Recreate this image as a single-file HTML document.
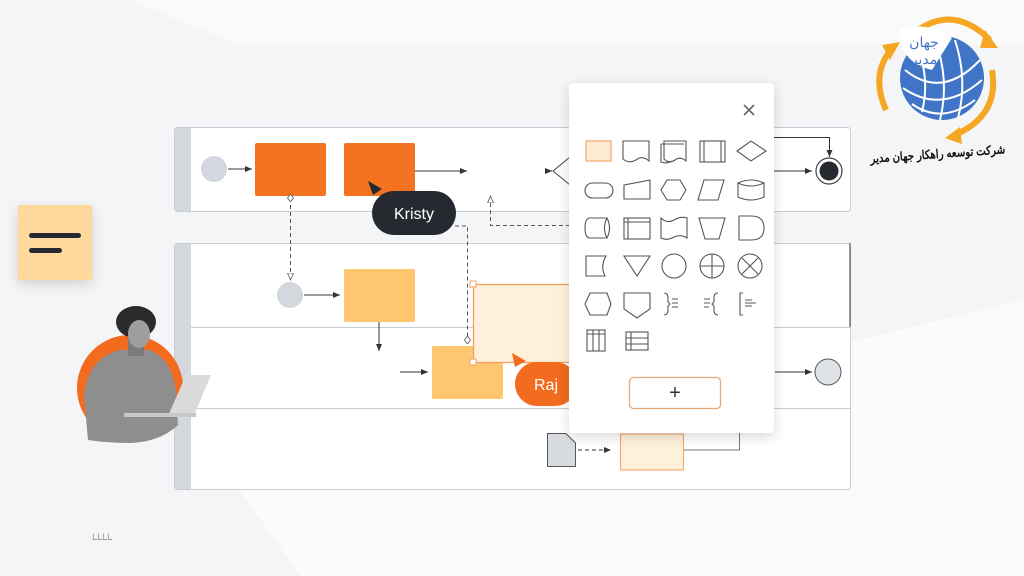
<!DOCTYPE html>
<html><head><meta charset="utf-8"><style>
html,body{margin:0;padding:0;width:1024px;height:576px;overflow:hidden;background:#f6f7f9}
svg{display:block}
text{font-family:"Liberation Sans","Noto Sans CJK SC",sans-serif}
</style></head><body>
<svg width="1024" height="576" viewBox="0 0 1024 576" xmlns="http://www.w3.org/2000/svg">
<defs>
<marker id="a" markerWidth="8" markerHeight="8" refX="7" refY="4" orient="auto"><path d="M0,1 L7,4 L0,7 z" fill="#333"/></marker>
<marker id="h" markerWidth="8" markerHeight="8" refX="7" refY="4" orient="auto"><path d="M0,1 L7,4 L0,7 z" fill="#fff" stroke="#555" stroke-width="0.8"/></marker>
<marker id="d" markerWidth="8" markerHeight="8" refX="4" refY="4" orient="auto"><path d="M0,4 L4,1 L8,4 L4,7 z" fill="#fff" stroke="#555" stroke-width="0.8"/></marker>
<filter id="sh" x="-20%" y="-20%" width="140%" height="140%"><feDropShadow dx="0" dy="4" stdDeviation="6" flood-color="#000" flood-opacity="0.15"/></filter>
</defs>
<rect width="1024" height="576" fill="#f4f5f7"/>
<polygon points="0,0 1024,0 1024,45 240,45 130,0" fill="#fafafb"/>
<polygon points="300,576 240,490 1024,300 1024,576" fill="#fbfbfc"/>

<!-- top pool -->
<rect x="174.5" y="127.5" width="676" height="84" rx="3" fill="#fff" stroke="#c9cdd3"/>
<rect x="175" y="128" width="16" height="83" fill="#d4d8de"/>
<!-- bottom pool -->
<rect x="174.5" y="243.5" width="676" height="246" rx="3" fill="#fff" stroke="#c9cdd3"/>
<rect x="175" y="244" width="16" height="245" fill="#d4d8de"/>
<line x1="191" y1="327.5" x2="850" y2="327.5" stroke="#c9cdd3"/>
<line x1="191" y1="408.5" x2="850" y2="408.5" stroke="#c9cdd3"/>
<line x1="850" y1="243" x2="850" y2="327" stroke="#555" stroke-width="1.2"/>

<circle cx="214" cy="169" r="13" fill="#d3d7de"/>
<line x1="228" y1="169" x2="252" y2="169" stroke="#333" marker-end="url(#a)"/>
<rect x="255" y="143" width="71" height="53" rx="2" fill="#f47321"/>
<rect x="344" y="143" width="71" height="53" rx="2" fill="#f47321"/>
<line x1="415" y1="171" x2="467" y2="171" stroke="#333" marker-end="url(#a)"/>
<line x1="545" y1="171" x2="552" y2="171" stroke="#333" marker-end="url(#a)"/>
<path d="M553,171 L570,157 L570,185 z" fill="#fff" stroke="#444"/>

<line x1="290.5" y1="198" x2="290.5" y2="280" stroke="#555" stroke-dasharray="4,3" marker-start="url(#d)" marker-end="url(#h)"/>
<circle cx="290" cy="295" r="13" fill="#d3d7de"/>
<line x1="304" y1="295" x2="340" y2="295" stroke="#333" marker-end="url(#a)"/>
<rect x="344" y="269" width="71" height="53" rx="2" fill="#fdc66f"/>
<line x1="379" y1="322" x2="379" y2="351" stroke="#333" marker-end="url(#a)"/>
<line x1="400" y1="372" x2="428" y2="372" stroke="#333" marker-end="url(#a)"/>
<rect x="432" y="346" width="71" height="53" rx="2" fill="#fdc66f"/>
<polyline points="455,226 467.5,226 467.5,340" fill="none" stroke="#555" stroke-dasharray="4,3" marker-end="url(#d)"/>
<polyline points="570,225.5 490.5,225.5 490.5,196" fill="none" stroke="#555" stroke-dasharray="4,3" marker-end="url(#h)"/>

<rect x="473.5" y="284.5" width="103" height="78" fill="#fff0da" stroke="#f0a060" stroke-width="1.3"/>
<g fill="#fff" stroke="#f0a060"><rect x="470" y="281" width="6" height="6"/><rect x="574" y="281" width="6" height="6"/><rect x="470" y="359" width="6" height="6"/><rect x="574" y="359" width="6" height="6"/></g>

<rect x="372" y="191" width="84" height="44" rx="22" fill="#262a30"/>
<text x="414" y="219" font-size="16" fill="#fff" text-anchor="middle">Kristy</text>
<path d="M368,181 L382,189 L373,195 z" fill="#262a30"/>
<rect x="515" y="362" width="62" height="44" rx="22" fill="#f26b1f"/>
<text x="546" y="390" font-size="16" fill="#fff" text-anchor="middle">Raj</text>
<path d="M512,353 L526,361 L515,367 z" fill="#f26b1f"/>

<!-- right side elements -->
<polyline points="770,137.5 829.5,137.5 829.5,157" fill="none" stroke="#333" marker-end="url(#a)"/>
<line x1="774" y1="171" x2="812" y2="171" stroke="#333" marker-end="url(#a)"/>
<circle cx="829" cy="171" r="13" fill="#fff" stroke="#444" stroke-width="1.2"/>
<circle cx="829" cy="171" r="9.5" fill="#262a30"/>
<line x1="775" y1="372" x2="812" y2="372" stroke="#333" marker-end="url(#a)"/>
<circle cx="828" cy="372" r="13" fill="#dfe2e7" stroke="#555"/>
<path d="M547.5,433.5 L566,433.5 L575.5,443 L575.5,466.5 L547.5,466.5 z" fill="#d8dbe0" stroke="#555"/>
<line x1="578" y1="450" x2="611" y2="450" stroke="#333" stroke-dasharray="4,3" marker-end="url(#a)"/>
<rect x="620.5" y="434" width="63" height="36" fill="#fff0da" stroke="#f0a060"/>
<polyline points="684,450 739.5,450 739.5,430" fill="none" stroke="#777"/>

<!-- panel -->
<rect x="569" y="83" width="205" height="350" rx="4" fill="#fff" filter="url(#sh)"/>
<g stroke="#666" stroke-width="1.6"><line x1="744" y1="105" x2="754" y2="115"/><line x1="754" y1="105" x2="744" y2="115"/></g>
<g fill="none" stroke="#555" stroke-width="1.1">
<rect x="586" y="141" width="25" height="20" fill="#fdebd2" stroke="#f0a060"/>
<path d="M623,141 H649 V161 Q642,155 636,160 Q629,164 623,159 z"/>
<path d="M664,143 V141 H686 V161 Q680,156 675,160 Q669,164 664,159 z M661,144 H684"/>
<path d="M661,144 V162 Q667,164 672,161"/>
<rect x="700" y="141" width="25" height="21"/><line x1="704" y1="141" x2="704" y2="162"/><line x1="721" y1="141" x2="721" y2="162"/>
<path d="M737,151 L751,141 L766,151 L751,161 z"/>
<rect x="585" y="183" width="28" height="15" rx="7.5"/>
<path d="M624,185 L650,180 V199 H624 z"/>
<path d="M661,190 L667,180 H680 L686,190 L680,200 H667 z"/>
<path d="M704,180 H724 L718,200 H698 z"/>
<path d="M738,183 V197 Q751,203 764,197 V183 Q751,177 738,183 Q751,189 764,183"/>
<path d="M590,218 H607 Q612,228 607,238 H590 Q585,238 585,228 Q585,218 590,218 z M607,218 Q602,228 607,238"/>
<rect x="624" y="218" width="26" height="21"/><line x1="624" y1="222" x2="650" y2="222"/><line x1="628" y1="218" x2="628" y2="239"/>
<path d="M661,218 Q667,224 674,220 Q681,216 687,218 V238 Q681,234 674,237 Q667,241 661,238 z"/>
<path d="M699,218 H725 L719,239 H705 z"/>
<path d="M739,216 H751 Q764,216 764,228 Q764,240 751,240 H739 z"/>
<path d="M586,256 H606 Q600,266 605,276 H586 z"/>
<path d="M624,256 H650 L637,276 z"/>
<circle cx="674" cy="266" r="12"/>
<circle cx="712" cy="266" r="12"/><line x1="700" y1="266" x2="724" y2="266"/><line x1="712" y1="254" x2="712" y2="278"/>
<circle cx="750" cy="266" r="12"/><line x1="742" y1="258" x2="758" y2="274"/><line x1="758" y1="258" x2="742" y2="274"/>
<path d="M590,293 H607 L611,304 L607,315 H590 L585,304 z"/>
<path d="M624,293 H650 V309 L637,318 L624,309 z"/>
<path d="M664,293 Q668,293 668,298 V302 L670,304 L668,306 V310 Q668,315 664,315"/>
<path d="M672,299 H678 M672,303 H678 M672,307 H678"/>
<path d="M704,299 H710 M704,303 H710 M704,307 H709"/>
<path d="M718,293 Q714,293 714,298 V302 L712,304 L714,306 V310 Q714,315 718,315"/>
<path d="M743,293 H740 V315 H743 M745,300 H752 M745,303 H756 M745,306 H752"/>
<rect x="587" y="330" width="18" height="21"/><line x1="587" y1="334" x2="605" y2="334"/><line x1="593" y1="330" x2="593" y2="351"/><line x1="599" y1="330" x2="599" y2="351"/>
<rect x="626" y="332" width="22" height="18"/><line x1="626" y1="338" x2="648" y2="338"/><line x1="626" y1="344" x2="648" y2="344"/><line x1="631" y1="332" x2="631" y2="350"/>
</g>
<rect x="629.5" y="377.5" width="91" height="31" rx="4" fill="#fff" stroke="#e5a878" stroke-width="1.3"/>
<text x="675" y="399" font-size="20" fill="#333" text-anchor="middle">+</text>

<!-- sticky note -->
<rect x="18" y="205" width="74" height="75" fill="#fdd99c" filter="url(#sh)"/>
<rect x="29" y="233" width="52" height="5" rx="2.5" fill="#262a30"/>
<rect x="29" y="248" width="33" height="5" rx="2.5" fill="#262a30"/>

<!-- person -->
<circle cx="130" cy="388" r="53" fill="#f26b1f"/>
<path d="M88,440 L84,395 Q88,358 120,350 L150,350 Q172,360 176,390 L178,425 Q160,442 130,443 Q108,443 88,440 z" fill="#8e8e8e"/>
<rect x="128" y="338" width="16" height="18" fill="#7a7a7a"/>
<ellipse cx="136" cy="322" rx="20" ry="16" fill="#2b2b2b"/>
<ellipse cx="139" cy="334" rx="11" ry="14" fill="#9e9e9e"/>
<path d="M168,416 L186,375 L211,375 L195,413 z" fill="#dadada"/>
<rect x="124" y="413" width="72" height="4" fill="#c8c8c8"/>

<!-- logo -->
<g fill="none" stroke="#f5a623" stroke-width="6">
<path d="M918,30 Q955,5 990,40"/>
<path d="M886,110 Q870,75 892,48"/>
<path d="M992,70 Q1000,115 955,135"/>
</g>
<path d="M985,30 L998,48 L980,48 z" fill="#f5a623"/>
<path d="M882,45 L900,42 L890,60 z" fill="#f5a623"/>
<path d="M960,127 L945,138 L962,144 z" fill="#f5a623"/>
<circle cx="942" cy="78" r="42" fill="#3f74c6"/>
<g stroke="#fff" stroke-width="2" fill="none">
<path d="M905,70 Q942,100 980,60"/><path d="M903,88 Q942,115 982,80"/><path d="M912,104 Q942,125 975,100"/>
<path d="M935,40 Q950,80 940,120"/><path d="M955,40 Q968,80 958,118"/><path d="M918,48 Q930,80 922,112"/>
</g>
<path d="M900,28 Q898,62 932,70 L952,38 Q930,22 900,28 z" fill="#fff"/>
<text x="924" y="47" font-size="14" fill="#3f74c6" text-anchor="middle" font-family="DejaVu Sans,sans-serif">جهان</text>
<text x="924" y="64" font-size="14" fill="#3f74c6" text-anchor="middle" font-family="DejaVu Sans,sans-serif">مدیر</text>
<text x="938" y="158" font-size="12" font-weight="bold" fill="#111" text-anchor="middle" textLength="135" lengthAdjust="spacingAndGlyphs" font-family="DejaVu Sans,sans-serif" transform="rotate(-4 938 158)">شرکت توسعه راهکار جهان مدیر</text>

<text x="92" y="540" font-size="9" fill="#999">ᒪᒪᒪᒪ</text>
</svg>
</body></html>
